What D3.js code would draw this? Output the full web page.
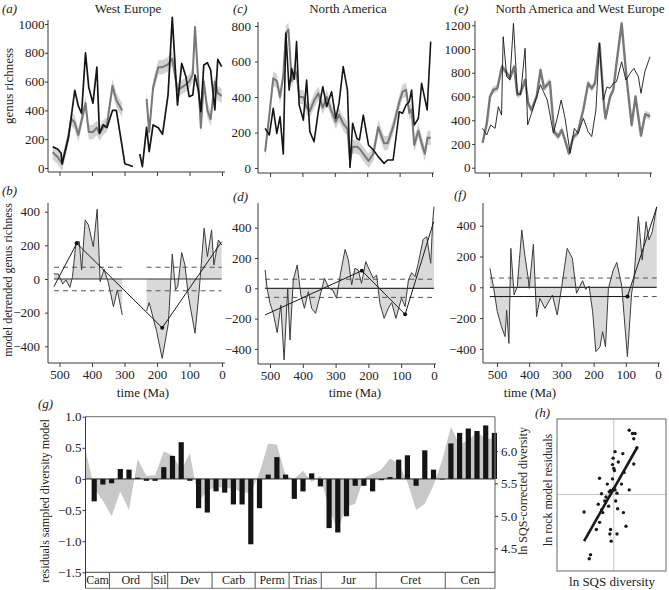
<!DOCTYPE html>
<html><head><meta charset="utf-8">
<script src="https://cdn.jsdelivr.net/npm/d3@7"></script>
<style>body{margin:0;background:#fff}svg{font-family:"Liberation Serif","Times New Roman",serif}</style>
</head><body>
<svg id="chart" width="669" height="590"></svg>
<script>
// ---------- DATA ----------
// (a) West Europe: [age Ma, genus richness]
const weRaw1 = [[521,148],[505,130],[495,102],[492,28],[472,217],[453,540],[442,430],[432,380],[420,800],[410,560],[397,450],[385,700],[377,240],[366,300],[354,280],[337,400],[325,400],[299,30],[274,10]];
const weRaw2 = [[253,97],[245,9],[232,282],[224,113],[212,299],[196,280],[183,234],[166,507],[153,1046],[137,437],[124,727],[111,634],[101,495],[90,507],[83,646],[73,542],[65,391],[56,715],[45,731],[35,681],[22,403],[13,755],[1,704]];
const weModel1 = [[521,110],[505,75],[492,30],[474,200],[464,340],[454,320],[442,230],[432,330],[420,450],[410,250],[397,250],[385,280],[377,240],[366,280],[354,300],[337,570],[325,470],[307,400]];
const weModel2 = [[232,480],[224,250],[212,560],[196,700],[183,700],[166,720],[153,760],[137,540],[124,560],[111,580],[101,600],[90,650],[83,980],[73,600],[65,280],[56,600],[45,400],[35,340],[22,600],[13,520],[1,500]];
// (c) North America
const naRaw = [[515,223],[502,186],[490,336],[479,195],[469,289],[459,79],[451,759],[441,439],[433,560],[425,500],[418,712],[410,355],[397,270],[387,496],[377,205],[364,148],[351,317],[337,458],[325,345],[310,430],[297,280],[287,364],[274,571],[261,439],[253,3],[245,252],[232,167],[224,158],[212,298],[196,130],[181,101],[166,64],[148,26],[137,45],[120,45],[101,317],[91,308],[80,355],[70,374],[63,439],[55,242],[42,280],[32,477],[15,327],[4,712]];
const naModel = [[515,92],[502,300],[490,505],[479,490],[469,400],[459,520],[451,760],[443,780],[433,490],[425,540],[418,540],[410,400],[397,400],[387,340],[377,320],[364,380],[351,420],[337,340],[325,400],[310,320],[297,260],[287,300],[274,250],[261,220],[253,40],[245,120],[232,120],[224,110],[212,80],[196,40],[181,80],[166,230],[148,140],[137,140],[120,230],[101,370],[91,430],[80,440],[70,310],[63,330],[55,130],[42,210],[32,140],[22,80],[14,170],[4,170]];
// (e) North America and West Europe
const bothModel = [[520,211],[507,370],[497,598],[487,655],[474,669],[460,851],[445,800],[435,753],[422,851],[412,613],[402,627],[388,739],[378,542],[368,486],[352,600],[340,823],[329,669],[311,725],[298,304],[285,262],[274,318],[264,233],[252,121],[238,262],[225,290],[207,490],[192,711],[181,669],[171,711],[157,1048],[142,500],[138,416],[124,598],[114,655],[104,879],[88,1216],[73,760],[57,360],[45,600],[28,270],[15,450],[5,440],[0,430]];
const bothRaw = [[520,332],[507,276],[495,360],[481,332],[471,514],[461,444],[456,1104],[445,767],[435,740],[424,1216],[412,627],[402,613],[388,1006],[380,360],[368,458],[352,598],[340,700],[331,641],[319,570],[300,290],[288,420],[276,570],[264,420],[248,121],[235,332],[223,290],[207,416],[192,304],[181,262],[168,486],[157,1048],[145,570],[134,680],[124,669],[114,711],[104,725],[88,893],[75,739],[62,795],[50,837],[36,767],[28,627],[16,809],[0,935]];
const bandA = 50, bandC = 40, bandE = 30;
// (b) detrended West Europe
const weDet1 = [[517,30],[504,30],[490,-30],[480,-6],[468,-50],[460,14],[449,222],[439,222],[432,54],[421,351],[411,321],[396,192],[384,415],[375,-16],[363,58],[350,-20],[334,-165],[322,-65],[307,-214]];
const weDet2 = [[232,-190],[224,-140],[201,-313],[184,-472],[165,-264],[153,149],[143,-65],[136,-42],[124,157],[114,83],[104,-95],[83,-323],[71,-85],[55,302],[45,133],[32,292],[25,83],[11,232],[1,202]];
const weTrend = [[517,-45],[447,212],[184,-290],[1,222]];
const weBand = 70;
// (d) detrended North America
const naDet = [[515,121],[508,-11],[500,-99],[490,-165],[478,-293],[467,-110],[457,-473],[446,0],[439,-341],[429,55],[417,154],[406,-44],[395,-132],[383,-22],[373,-132],[361,-165],[348,-55],[334,66],[320,0],[309,-11],[297,-66],[285,100],[271,257],[261,187],[251,22],[241,132],[231,121],[221,33],[208,176],[197,121],[185,66],[175,88],[165,-99],[152,-198],[139,-130],[129,-95],[116,-198],[106,-120],[99,-66],[88,-120],[78,55],[68,103],[58,77],[48,165],[33,323],[22,341],[10,165],[4,440],[0,539]];
const naTrend = [[515,-176],[220,116],[88,-172],[1,440]];
const naBand = 60;
// (f) detrended combined
const bothDet = [[522,123],[511,4],[499,-158],[486,-256],[475,-320],[470,-150],[463,-364],[457,253],[447,-50],[437,4],[423,372],[413,199],[403,58],[400,-7],[387,279],[377,-191],[367,-72],[351,-137],[328,-50],[313,-180],[299,4],[282,253],[266,188],[253,-39],[234,43],[225,-13],[214,8],[203,-158],[193,-418],[180,-386],[172,-288],[163,-386],[154,-7],[139,112],[128,162],[113,15],[95,-451],[82,-39],[75,47],[61,459],[49,177],[37,426],[28,307],[18,361],[4,524]];
const bothTrend = [[522,-60],[95,-60],[4,520]];
const bothBand = 60;
// (g) residuals per stage
const residualBars = [-0.36,-0.09,-0.07,0.16,0.15,0.02,-0.03,-0.03,0.19,0.37,0.59,-0.03,-0.47,-0.54,-0.20,-0.22,-0.41,-0.41,-1.05,-0.47,0.07,0.35,0.07,-0.32,-0.20,0.09,-0.12,-0.79,-0.86,-0.60,-0.11,-0.11,-0.20,-0.02,0.03,0.31,0.38,-0.11,0.46,0.15,-0.01,0.57,0.74,0.81,0.77,0.86,0.74];
const sqsGrey = [0.47,-0.15,-0.35,-0.6,-0.2,-0.5,0.32,0.05,0.06,0.44,0.38,0.15,0.41,-0.35,-0.2,-0.12,-0.15,-0.15,-0.22,-0.22,0.1,0.57,0.55,0.05,0.0,0.13,-0.05,0.05,-0.5,-0.82,-0.45,-0.4,0.02,0.08,0.15,0.33,0.25,-0.05,-0.5,-0.4,-0.1,0.3,0.84,0.55,0.62,0.75,0.65,0.65];
const periods = ["Cam","Ord","Sil","Dev","Carb","Perm","Trias","Jur","Cret","Cen"];
const periodEdges = [0,2.75,7.65,9.45,14.55,19.5,23.4,27.1,33.4,41.35,47.07];
const gLeftTicks = [1.0,0.5,0,-0.5,-1.0,-1.5];
const gRightTicks = [6.0,5.5,5.0,4.5];
// (h) scatter
const hX = [5.74,5.79,5.83,5.81,5.86,5.81,5.52,5.64,5.49,5.57,5.48,5.50,5.51,5.66,5.28,5.48,5.40,5.62,5.50,5.45,5.43,5.47,5.52,5.55,5.31,5.74,5.38,5.36,5.53,5.42,5.26,5.56,5.31,5.33,5.65,5.04,5.28,5.23,5.69,5.45,5.44,5.55,5.46,5.14,5.12];
const hY = [6.32,6.27,6.27,6.19,6.05,5.80,5.99,5.96,5.89,5.83,5.79,5.73,5.70,5.67,5.58,5.57,5.49,5.49,5.42,5.39,5.37,5.38,5.40,5.35,5.34,5.40,5.29,5.23,5.23,5.15,5.18,5.11,5.09,5.05,5.05,5.06,4.90,4.79,4.84,4.79,4.72,4.72,4.61,4.40,4.34];
const hFit = [[5.04,4.61],[5.86,6.05]];
const hMean = [5.5,5.33];
const ageTicks = [500,400,300,200,100,0];

// ---------- DRAW ----------
const svg = d3.select("#chart");
const AX = "#3a3a3a", FONT = "Liberation Serif";
const minus = d => d < 0 ? "\u2212" + Math.abs(d) : String(d);

function txt(x, y, s, o = {}) {
  const t = svg.append("text").attr("x", x).attr("y", y).text(s)
    .attr("font-size", o.size || 13).attr("fill", o.fill || "#222")
    .attr("text-anchor", o.anchor || "start");
  if (o.italic) t.attr("font-style", "italic");
  if (o.rot) t.attr("transform", `rotate(-90,${x},${y})`);
  return t;
}
function yAxis(y, x0, top, bot, ticks, fmt, off) {
  svg.append("line").attr("x1", x0).attr("x2", x0).attr("y1", top).attr("y2", bot).attr("stroke", AX);
  const a = svg.append("g").attr("transform", `translate(${x0},0)`)
    .call(d3.axisLeft(y).tickValues(ticks).tickSize(3).tickPadding(off - 3).tickFormat(fmt));
  a.select(".domain").remove();
  a.attr("font-family", FONT).attr("font-size", 13);
  a.selectAll("text").attr("fill", "#222");
  a.selectAll("line").attr("stroke", AX);
}
function xAxis(x, y0, left, right, labels) {
  svg.append("line").attr("x1", left).attr("x2", right).attr("y1", y0).attr("y2", y0).attr("stroke", AX);
  const a = svg.append("g").attr("transform", `translate(0,${y0})`)
    .call(d3.axisBottom(x).tickValues(ageTicks).tickSize(4).tickPadding(3).tickFormat(labels ? d => d : () => ""));
  a.select(".domain").remove();
  a.attr("font-family", FONT).attr("font-size", 13);
  a.selectAll("text").attr("fill", "#222");
  a.selectAll("line").attr("stroke", AX);
}

function topPanel(cfg) {
  const x = d3.scaleLinear().domain([500, 0]).range(cfg.xr);
  const y = d3.scaleLinear().domain([0, cfg.ymax]).range([cfg.y0, cfg.ytop]);
  const line = d3.line().x(d => x(d[0])).y(d => y(d[1]));
  const band = d3.area().x(d => x(d[0])).y0(d => y(d[1] - cfg.band)).y1(d => y(d[1] + cfg.band));
  cfg.model.forEach(s => svg.append("path").attr("d", band(s)).attr("fill", "#d2d2d2"));
  cfg.model.forEach(s => svg.append("path").attr("d", line(s)).attr("fill", "none").attr("stroke", "#787878").attr("stroke-width", cfg.modelW).attr("stroke-linejoin", "round"));
  cfg.raw.forEach(s => svg.append("path").attr("d", line(s)).attr("fill", "none").attr("stroke", "#151515").attr("stroke-width", cfg.rawW).attr("stroke-linejoin", "round"));
  yAxis(y, cfg.ax, cfg.axTop, cfg.axBot, d3.range(0, cfg.ymax + 1, cfg.step), d => d, cfg.off);
  xAxis(x, cfg.axBot, cfg.ax, cfg.xEnd, false);
}
topPanel({xr: [59.5, 222], y0: 168, ytop: 24, ymax: 1000, step: 200, band: bandA, ax: 48, axTop: 20, axBot: 172, xEnd: 225, off: 3.5,
  model: [weModel1, weModel2], raw: [weRaw1, weRaw2], modelW: 2, rawW: 1.7});
topPanel({xr: [270, 432], y0: 168, ytop: 26, ymax: 800, step: 200, band: bandC, ax: 258, axTop: 22, axBot: 173, xEnd: 434, off: 7,
  model: [naModel], raw: [naRaw], modelW: 2, rawW: 1.6});
topPanel({xr: [489, 650], y0: 167.7, ytop: 25.3, ymax: 1200, step: 200, band: bandE, ax: 475, axTop: 21, axBot: 173, xEnd: 652, off: 4.5,
  model: [bothModel], raw: [bothRaw], modelW: 2.4, rawW: 0.9});

function detPanel(cfg) {
  const x = d3.scaleLinear().domain([500, 0]).range(cfg.xr);
  const y = d3.scaleLinear().domain([0, 400]).range([cfg.y0, cfg.y400]);
  const line = d3.line().x(d => x(d[0])).y(d => y(d[1]));
  const area = d3.area().x(d => x(d[0])).y0(y(0)).y1(d => y(d[1]));
  cfg.series.forEach(s => svg.append("path").attr("d", area(s)).attr("fill", "#d9d9d9"));
  const all = cfg.series.flat();
  const a0 = all[0][0], a1 = all[all.length - 1][0];
  svg.append("line").attr("x1", x(a0)).attr("x2", x(a1)).attr("y1", y(0)).attr("y2", y(0)).attr("stroke", "#333").attr("stroke-width", 1.2);
  cfg.series.forEach(s => {
    const b0 = s[0][0], b1 = s[s.length - 1][0];
    [cfg.bandv, -cfg.bandv].forEach(v => svg.append("line").attr("x1", x(b0)).attr("x2", x(b1)).attr("y1", y(v)).attr("y2", y(v))
      .attr("stroke", "#555").attr("stroke-dasharray", "5,4").attr("stroke-width", 1));
  });
  cfg.series.forEach(s => svg.append("path").attr("d", line(s)).attr("fill", "none").attr("stroke", "#3c3c3c").attr("stroke-width", 1).attr("stroke-linejoin", "round"));
  svg.append("path").attr("d", line(cfg.trend)).attr("fill", "none").attr("stroke", "#1a1a1a").attr("stroke-width", 1);
  cfg.trend.slice(1, -1).forEach(d => svg.append("circle").attr("cx", x(d[0])).attr("cy", y(d[1])).attr("r", 2).attr("fill", "#111"));
  yAxis(y, cfg.ax, cfg.axTop, cfg.axBot, [400, 200, 0, -200, -400], minus, cfg.off);
  xAxis(x, cfg.axBot, cfg.ax, cfg.xEnd, true);
}
detPanel({xr: [59.5, 222], y0: 279, y400: 211.7, series: [weDet1, weDet2], trend: weTrend, bandv: weBand, ax: 48, axTop: 203, axBot: 363, xEnd: 225, off: 8});
detPanel({xr: [270, 434], y0: 288.3, y400: 227.7, series: [naDet], trend: naTrend, bandv: naBand, ax: 258, axTop: 203, axBot: 364, xEnd: 436, off: 6.5});
detPanel({xr: [497, 658], y0: 287.3, y400: 225.7, series: [bothDet], trend: bothTrend, bandv: bothBand, ax: 483, axTop: 203, axBot: 363, xEnd: 660, off: 7});

// titles & labels for top rows
txt(2, 13, "(a)", {italic: true});
txt(128, 13, "West Europe", {anchor: "middle"});
txt(233, 13, "(c)", {italic: true});
txt(348, 13, "North America", {anchor: "middle"});
txt(454, 13, "(e)", {italic: true});
txt(580, 13, "North America and West Europe", {anchor: "middle"});
txt(13, 86, "genus richness", {anchor: "middle", rot: true});
txt(12, 280, "model detrended genus richness", {anchor: "middle", rot: true, size: 12});
txt(2, 195, "(b)", {italic: true});
txt(233, 201, "(d)", {italic: true});
txt(454, 199, "(f)", {italic: true});
txt(143, 397, "time (Ma)", {anchor: "middle"});
txt(355, 397, "time (Ma)", {anchor: "middle"});
txt(530, 397, "time (Ma)", {anchor: "middle"});

// ---------- (g) ----------
const xg = d3.scaleLinear().domain([0, 47]).range([85.5, 494.4]);
const yL = d3.scaleLinear().domain([-1.5, 1.0]).range([572.3, 416.7]);
const yR = d3.scaleLinear().domain([4.5, 6.0]).range([548.3, 451]);
const gRight = xg(47.07), stripBot = 588.3;
svg.append("path").attr("d", d3.area().x((d, i) => xg(i)).y0(yL(0)).y1(d => yL(d))(sqsGrey)).attr("fill", "#c8c8c8");
svg.selectAll(".bar").data(residualBars).enter().append("rect")
  .attr("x", (d, i) => xg(i + 1) - 2.6).attr("width", 5.2)
  .attr("y", d => yL(Math.max(0, d))).attr("height", d => Math.abs(yL(d) - yL(0)))
  .attr("fill", "#141414");
svg.append("line").attr("x1", xg(0)).attr("x2", gRight).attr("y1", yL(0)).attr("y2", yL(0)).attr("stroke", "#222").attr("stroke-width", 1);
svg.append("line").attr("x1", xg(0)).attr("x2", gRight).attr("y1", yL(1.0)).attr("y2", yL(1.0)).attr("stroke", "#888").attr("stroke-width", 1.3);
svg.append("line").attr("x1", gRight).attr("x2", gRight).attr("y1", yL(1.0)).attr("y2", stripBot).attr("stroke", "#777").attr("stroke-width", 1.2);
svg.append("line").attr("x1", xg(0)).attr("x2", gRight).attr("y1", yL(-1.5)).attr("y2", yL(-1.5)).attr("stroke", "#444");
svg.append("line").attr("x1", xg(0)).attr("x2", gRight).attr("y1", stripBot).attr("y2", stripBot).attr("stroke", "#777");
periodEdges.slice(1, -1).forEach(e => svg.append("line").attr("x1", xg(e)).attr("x2", xg(e)).attr("y1", yL(-1.5)).attr("y2", stripBot).attr("stroke", "#555"));
periods.forEach((p, i) => txt((xg(periodEdges[i]) + xg(periodEdges[i + 1])) / 2, 584, p, {anchor: "middle", size: 12}));
yAxis(yL, xg(0), yL(1.0), stripBot, gLeftTicks, d => d === 0 ? "0" : (d < 0 ? "\u2212" : "") + Math.abs(d).toFixed(1), 4);
{
  const a = svg.append("g").attr("transform", `translate(${gRight},0)`)
    .call(d3.axisRight(yR).tickValues(gRightTicks).tickSize(3).tickPadding(3).tickFormat(d => d.toFixed(1)));
  a.select(".domain").remove();
  a.attr("font-family", FONT).attr("font-size", 13);
  a.selectAll("text").attr("fill", "#222");
  a.selectAll("line").attr("stroke", AX);
}
txt(38, 408, "(g)", {italic: true});
txt(49, 501, "residuals sampled  diversity model", {anchor: "middle", rot: true, size: 12});
txt(527, 491, "ln SQS-corrected diversity", {anchor: "middle", rot: true, size: 12});

// ---------- (h) ----------
const hx = d3.scaleLinear().domain([4.62, 6.31]).range([557, 666]);
const hLeft = 557, hRight = 666, hTop = 419, hBot = 571;
svg.append("line").attr("x1", hx(hMean[0])).attr("x2", hx(hMean[0])).attr("y1", hTop).attr("y2", hBot).attr("stroke", "#c4c4c4");
svg.append("line").attr("x1", hLeft).attr("x2", hRight).attr("y1", yR(hMean[1])).attr("y2", yR(hMean[1])).attr("stroke", "#c4c4c4");
svg.append("rect").attr("x", hLeft).attr("y", hTop).attr("width", hRight - hLeft).attr("height", hBot - hTop)
  .attr("fill", "none").attr("stroke", "#8a8a8a").attr("stroke-width", 1.3);
svg.append("path").attr("d", d3.line().x(d => hx(d[0])).y(d => yR(d[1]))(hFit)).attr("stroke", "#1a1a1a").attr("stroke-width", 2.6).attr("fill", "none");
svg.selectAll(".pt").data(hX).enter().append("circle")
  .attr("cx", d => hx(d)).attr("cy", (d, i) => yR(hY[i])).attr("r", 1.7).attr("fill", "#1a1a1a");
txt(535, 417, "(h)", {italic: true});
txt(552, 490, "ln rock model residuals", {anchor: "middle", rot: true, size: 12});
txt(612, 586, "ln SQS diversity", {anchor: "middle"});
</script>
</body></html>
